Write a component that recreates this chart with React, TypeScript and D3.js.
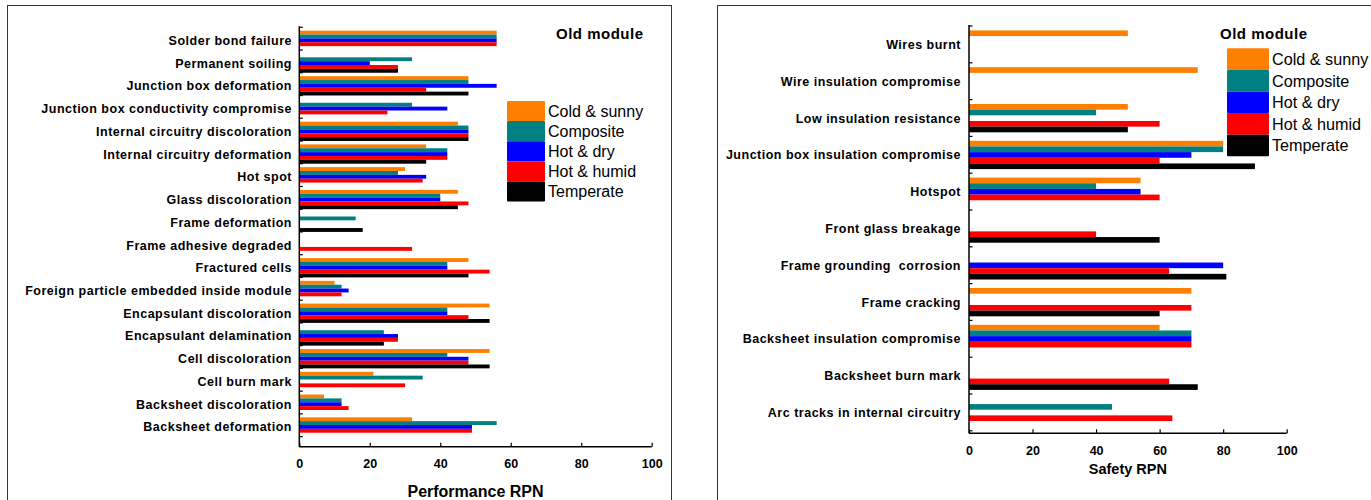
import React, { useEffect, useRef } from 'react';
import * as d3 from 'd3';

const series = ['Cold & sunny', 'Composite', 'Hot & dry', 'Hot & humid', 'Temperate'];
const colors = ['#FF8000', '#008080', '#0000FF', '#FF0000', '#000000'];

const leftCategories = [
  'Solder bond failure', 'Permanent soiling', 'Junction box deformation',
  'Junction box conductivity compromise', 'Internal circuitry discoloration',
  'Internal circuitry deformation', 'Hot spot', 'Glass discoloration', 'Frame deformation',
  'Frame adhesive degraded', 'Fractured cells', 'Foreign particle embedded inside module',
  'Encapsulant discoloration', 'Encapsulant delamination', 'Cell discoloration',
  'Cell burn mark', 'Backsheet discoloration', 'Backsheet deformation',
];
const leftCold = [56, null, 48, null, 45, 36, 30, 45, null, null, 48, 10, 54, null, 54, 21, 7, 32];
const leftComposite = [56, 32, 48, 32, 48, 42, 28, 40, 16, null, 42, 12, 42, 24, 42, 35, 12, 56];
const leftHotDry = [56, 20, 56, 42, 48, 42, 36, 40, null, null, 42, 14, 42, 28, 48, null, 12, 49];
const leftHotHumid = [56, 28, 36, 25, 48, 42, 35, 48, null, 32, 54, 12, 48, 28, 48, 30, 14, 49];
const leftTemperate = [null, 28, 48, null, 48, 36, null, 45, 18, null, 48, null, 54, 24, 54, null, null, null];

const rightCategories = [
  'Wires burnt', 'Wire insulation compromise', 'Low insulation resistance',
  'Junction box insulation compromise', 'Hotspot', 'Front glass breakage',
  'Frame grounding  corrosion', 'Frame cracking', 'Backsheet insulation compromise',
  'Backsheet burn mark', 'Arc tracks in internal circuitry',
];
const rightCold = [50, 72, 50, 80, 54, null, null, 70, 60, null, null];
const rightComposite = [null, null, 40, 80, 40, null, null, null, 70, null, 45];
const rightHotDry = [null, null, null, 70, 54, null, 80, null, 70, null, null];
const rightHotHumid = [null, null, 60, 60, 60, 40, 63, 70, 70, 63, 64];
const rightTemperate = [null, null, 50, 90, null, 60, 81, 60, null, 72, null];

const xTicks = [0, 20, 40, 60, 80, 100];
const FONT = "'Liberation Sans', Arial, sans-serif";

type Panel = {
  categories: string[];
  values: (number | null)[][];
  x0: number; x1: number;
  y0: number; step: number;
  groupOff: number; barH: number;
  axisY: number;
  xLabel: string; xLabelY: number; xLabelSize: number;
  tickPad: number;
  legendX: number; legendY: number; legendH: number; legendW: number; legendFont: number;
  titleX: number; titleY: number;
  labelX: number;
};

const panels: Panel[] = [
  {
    categories: leftCategories,
    values: [leftCold, leftComposite, leftHotDry, leftHotHumid, leftTemperate],
    x0: 299.3, x1: 651.7, y0: 27.3, step: 22.74, groupOff: 3.4, barH: 3.86,
    axisY: 446.7, xLabel: 'Performance RPN', xLabelY: 497, xLabelSize: 16, tickPad: 12,
    legendX: 507, legendY: 101, legendH: 20.1, legendW: 38, legendFont: 16,
    titleX: 556, titleY: 39, labelX: 292,
  },
  {
    categories: rightCategories,
    values: [rightCold, rightComposite, rightHotDry, rightHotHumid, rightTemperate],
    x0: 969, x1: 1286.7, y0: 26, step: 36.8, groupOff: 4.4, barH: 5.66,
    axisY: 433.3, xLabel: 'Safety RPN', xLabelY: 474, xLabelSize: 14.5, tickPad: 13,
    legendX: 1227, legendY: 48.3, legendH: 21.6, legendW: 42, legendFont: 16.2,
    titleX: 1220, titleY: 39, labelX: 961,
  },
];

const App = () => {
  const ref = useRef<SVGSVGElement>(null);

  useEffect(() => {
    const svg = d3.select(ref.current);
    svg.selectAll('*').remove();

    // panel frames
    svg.append('rect').attr('x', 7.5).attr('y', 5.5).attr('width', 664).attr('height', 500)
      .attr('fill', 'none').attr('stroke', '#333').attr('stroke-width', 1);
    svg.append('rect').attr('x', 717.5).attr('y', 5.5).attr('width', 700).attr('height', 500)
      .attr('fill', 'none').attr('stroke', '#333').attr('stroke-width', 1);

    panels.forEach(p => {
      const n = p.categories.length;
      const xScale = d3.scaleLinear().domain([0, 100]).range([p.x0, p.x1]);
      const yScale = d3.scaleBand().domain(p.categories).range([p.y0, p.y0 + n * p.step]).padding(0);
      const sub = d3.scaleBand().domain(series).range([p.groupOff, p.groupOff + 5 * p.barH]).padding(0);

      const g = svg.append('g');

      // bars
      series.forEach((s, si) => {
        p.values[si].forEach((v, ci) => {
          if (v == null) return;
          g.append('rect')
            .attr('x', xScale(0))
            .attr('y', (yScale(p.categories[ci]) as number) + (sub(s) as number))
            .attr('width', xScale(v) - xScale(0))
            .attr('height', sub.bandwidth())
            .attr('fill', colors[si]);
        });
      });

      // category labels
      p.categories.forEach(c => {
        g.append('text')
          .attr('x', p.labelX)
          .attr('y', (yScale(c) as number) + p.groupOff + 2.5 * p.barH)
          .attr('dy', '0.36em')
          .attr('text-anchor', 'end')
          .style('font-family', FONT)
          .style('font-weight', 'bold')
          .style('font-size', '12.5px')
          .style('letter-spacing', '0.5px')
          .style('white-space', 'pre')
          .text(c);
      });

      // y axis
      g.append('line')
        .attr('x1', xScale(0)).attr('x2', xScale(0))
        .attr('y1', p.y0 - 1).attr('y2', p.axisY)
        .attr('stroke', '#000').attr('stroke-width', 1.5);
      const bounds = p.categories.map(c => yScale(c) as number).concat([p.y0 + n * p.step]);
      bounds.forEach(b => {
        g.append('line')
          .attr('x1', xScale(0)).attr('x2', xScale(0) + 3.5)
          .attr('y1', b).attr('y2', b)
          .attr('stroke', '#000').attr('stroke-width', 1.2);
      });

      // x axis
      const ax = g.append('g')
        .attr('transform', `translate(0, ${p.axisY})`)
        .call(d3.axisBottom(xScale).tickValues(xTicks).tickSize(-4).tickPadding(p.tickPad).tickFormat(d => `${d}`));
      ax.select('.domain').attr('stroke-width', 1.5).attr('d', `M${p.x0},0H${p.x1}`);
      ax.selectAll('.tick line').attr('stroke-width', 1.2);
      ax.selectAll('text')
        .style('font-family', FONT)
        .style('font-weight', 'bold')
        .style('font-size', '12.5px')
        .attr('fill', '#000');

      g.append('text')
        .attr('x', (p.x0 + p.x1) / 2)
        .attr('y', p.xLabelY)
        .attr('text-anchor', 'middle')
        .style('font-family', FONT)
        .style('font-weight', 'bold')
        .style('font-size', `${p.xLabelSize}px`)
        .text(p.xLabel);

      // legend
      g.append('text')
        .attr('x', p.titleX)
        .attr('y', p.titleY)
        .style('font-family', FONT)
        .style('font-weight', 'bold')
        .style('font-size', '15px')
        .style('letter-spacing', '0.5px')
        .text('Old module');

      series.forEach((s, i) => {
        g.append('rect')
          .attr('x', p.legendX)
          .attr('y', p.legendY + i * p.legendH)
          .attr('width', p.legendW)
          .attr('height', p.legendH)
          .attr('rx', 1)
          .attr('fill', colors[i]);
        g.append('text')
          .attr('x', p.legendX + p.legendW + 3)
          .attr('y', p.legendY + (i + 0.5) * p.legendH)
          .attr('dy', '0.36em')
          .style('font-family', FONT)
          .style('font-size', `${p.legendFont}px`)
          .text(s);
      });
    });
  }, []);

  return (
    <svg
      ref={ref}
      width={1371}
      height={500}
      style={{ position: 'absolute', left: 0, top: 0, background: '#fff' }}
    />
  );
};

export default App;
